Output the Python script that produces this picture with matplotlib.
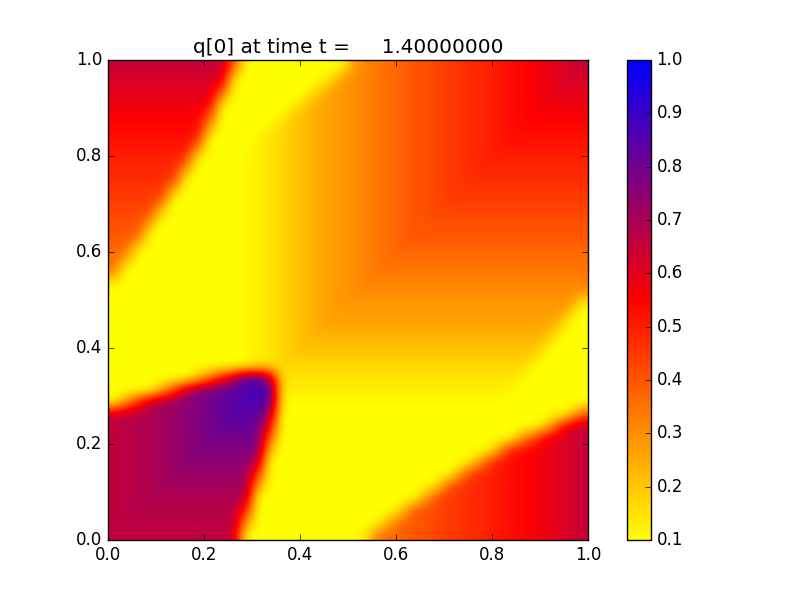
import matplotlib
matplotlib.use('Agg')
import matplotlib.pyplot as plt
import numpy as np
from matplotlib.colors import LinearSegmentedColormap

# q[0] in hundredths on a 40x40 cell grid.
# The field is symmetric about y = x, so each row only goes up to the diagonal.
# First row is the bottom one (y ~ 0.0125).
q_rows = [
    [66],
    [66, 67],
    [66, 67, 68],
    [66, 67, 68, 69],
    [66, 67, 68, 69, 71],
    [66, 67, 68, 69, 71, 73],
    [66, 67, 68, 69, 71, 73, 75],
    [66, 67, 68, 69, 71, 73, 75, 77],
    [66, 67, 68, 69, 71, 73, 75, 77, 79],
    [66, 67, 68, 69, 71, 73, 75, 77, 79, 82],
    [66, 67, 68, 69, 71, 73, 75, 77, 79, 82, 84],
    [12, 30, 49, 67, 71, 73, 75, 77, 79, 82, 84, 86],
    [10, 10, 10, 10, 27, 45, 66, 77, 79, 82, 84, 86, 87],
    [10, 10, 10, 10, 10, 10, 10, 21, 38, 53, 69, 86, 87, 70],
    [10, 10, 10, 10, 10, 10, 10, 10, 10, 10, 10, 12, 14, 15, 17],
    [10, 10, 10, 10, 10, 10, 10, 10, 10, 10, 10, 11, 13, 15, 17, 20],
    [10, 10, 10, 10, 10, 10, 10, 10, 10, 10, 10, 11, 13, 15, 17, 20, 22],
    [10, 10, 10, 10, 10, 10, 10, 10, 10, 10, 10, 11, 13, 15, 17, 20, 22, 25],
    [10, 10, 10, 10, 10, 10, 10, 10, 10, 10, 10, 11, 13, 15, 17, 20, 22, 25, 27],
    [10, 10, 10, 10, 10, 10, 10, 10, 10, 10, 10, 11, 13, 15, 17, 20, 22, 25, 27, 28],
    [10, 10, 10, 10, 10, 10, 10, 10, 10, 10, 10, 11, 13, 15, 17, 20, 22, 25, 27, 28, 30],
    [14, 10, 10, 10, 10, 10, 10, 10, 10, 10, 10, 11, 13, 15, 17, 20, 22, 25, 27, 28, 30, 32],
    [34, 10, 10, 10, 10, 10, 10, 10, 10, 10, 10, 11, 13, 15, 17, 20, 22, 25, 27, 28, 30, 32, 34],
    [36, 26, 10, 10, 10, 10, 10, 10, 10, 10, 10, 11, 13, 15, 17, 20, 22, 25, 27, 28, 30, 32, 34, 36],
    [38, 38, 18, 10, 10, 10, 10, 10, 10, 10, 10, 11, 13, 15, 17, 20, 22, 25, 27, 28, 30, 32, 34, 36, 38],
    [40, 40, 40, 10, 10, 10, 10, 10, 10, 10, 10, 11, 13, 15, 17, 20, 22, 25, 27, 28, 30, 32, 34, 36, 38, 40],
    [41, 41, 41, 29, 10, 10, 10, 10, 10, 10, 10, 11, 13, 15, 17, 20, 22, 25, 27, 28, 30, 32, 34, 36, 38, 40, 41],
    [43, 43, 43, 43, 19, 10, 10, 10, 10, 10, 10, 11, 13, 15, 17, 20, 22, 25, 27, 28, 30, 32, 34, 36, 38, 40, 41, 43],
    [45, 45, 45, 45, 42, 10, 10, 10, 10, 10, 10, 11, 13, 15, 17, 20, 22, 25, 27, 28, 30, 32, 34, 36, 38, 40, 41, 43, 45],
    [46, 46, 46, 46, 46, 32, 10, 10, 10, 10, 10, 11, 13, 15, 17, 20, 22, 25, 27, 28, 30, 32, 34, 36, 38, 40, 41, 43, 45, 46],
    [48, 48, 48, 48, 48, 48, 18, 10, 10, 10, 10, 11, 13, 15, 17, 20, 22, 25, 27, 28, 30, 32, 34, 36, 38, 40, 41, 43, 45, 46, 48],
    [49, 49, 49, 49, 49, 49, 41, 10, 10, 10, 10, 11, 13, 15, 17, 20, 22, 25, 27, 28, 30, 32, 34, 36, 38, 40, 41, 43, 45, 46, 48, 49],
    [51, 51, 51, 51, 51, 51, 51, 25, 10, 10, 10, 11, 13, 15, 17, 20, 22, 25, 27, 28, 30, 32, 34, 36, 38, 40, 41, 43, 45, 46, 48, 49, 51],
    [53, 53, 53, 53, 53, 53, 53, 50, 10, 10, 10, 10, 12, 15, 17, 20, 22, 25, 27, 28, 30, 32, 34, 36, 38, 40, 41, 43, 45, 46, 48, 49, 51, 53],
    [54, 54, 54, 54, 54, 54, 54, 54, 28, 10, 10, 10, 10, 12, 17, 20, 22, 25, 27, 28, 30, 32, 34, 36, 38, 40, 41, 43, 45, 46, 48, 49, 51, 53, 54],
    [56, 56, 56, 56, 56, 56, 56, 56, 43, 10, 10, 10, 10, 10, 11, 20, 22, 25, 27, 28, 30, 32, 34, 36, 38, 40, 41, 43, 45, 46, 48, 49, 51, 53, 54, 56],
    [58, 58, 58, 58, 58, 58, 58, 58, 58, 18, 10, 10, 10, 10, 10, 10, 19, 25, 27, 28, 30, 32, 34, 36, 38, 40, 41, 43, 45, 46, 48, 49, 51, 53, 54, 56, 58],
    [60, 60, 60, 60, 60, 60, 60, 60, 60, 44, 10, 10, 10, 10, 10, 10, 10, 17, 27, 28, 30, 32, 34, 36, 38, 40, 41, 43, 45, 46, 48, 49, 51, 53, 54, 56, 58, 60],
    [62, 62, 62, 62, 62, 62, 62, 62, 62, 62, 16, 10, 10, 10, 10, 10, 10, 10, 13, 28, 30, 32, 34, 36, 38, 40, 41, 43, 45, 46, 48, 49, 51, 53, 54, 56, 58, 60, 62],
    [65, 65, 65, 65, 65, 65, 65, 65, 65, 65, 39, 10, 10, 10, 10, 10, 10, 10, 10, 10, 28, 32, 34, 36, 38, 40, 41, 43, 45, 46, 48, 49, 51, 53, 54, 56, 58, 60, 62, 65],
]
cbar_ticks = [0.1, 0.2, 0.3, 0.4, 0.5, 0.6, 0.7, 0.8, 0.9, 1.0]
axis_ticks = [0.0, 0.2, 0.4, 0.6, 0.8, 1.0]

q = np.zeros((40, 40))
for j, row in enumerate(q_rows):
    q[j, :j + 1] = row
    q[:j + 1, j] = row
q = q / 100.0

plt.style.use('classic')
plt.rcParams['font.family'] = 'DejaVu Sans'

cmap = LinearSegmentedColormap.from_list('yrb', ['#ffff00', '#ff0000', '#0000ff'])

fig = plt.figure(figsize=(8, 6), dpi=100, facecolor='white')
ax = fig.add_axes([108 / 800, 60 / 600, 480 / 800, 480 / 600])
im = ax.imshow(q, origin='lower', extent=[0, 1, 0, 1], cmap=cmap, vmin=0.1, vmax=1.0,
               interpolation='bicubic', aspect='auto')
ax.set_xlim(0, 1)
ax.set_ylim(0, 1)
ax.set_xticks(axis_ticks)
ax.set_yticks(axis_ticks)
ax.set_title('q[0] at time t =     1.40000000')

cax = fig.add_axes([627 / 800, 60 / 600, 24 / 800, 480 / 600])
cb = fig.colorbar(im, cax=cax, ticks=cbar_ticks)

fig.savefig('out.png', dpi=100, facecolor='white')
